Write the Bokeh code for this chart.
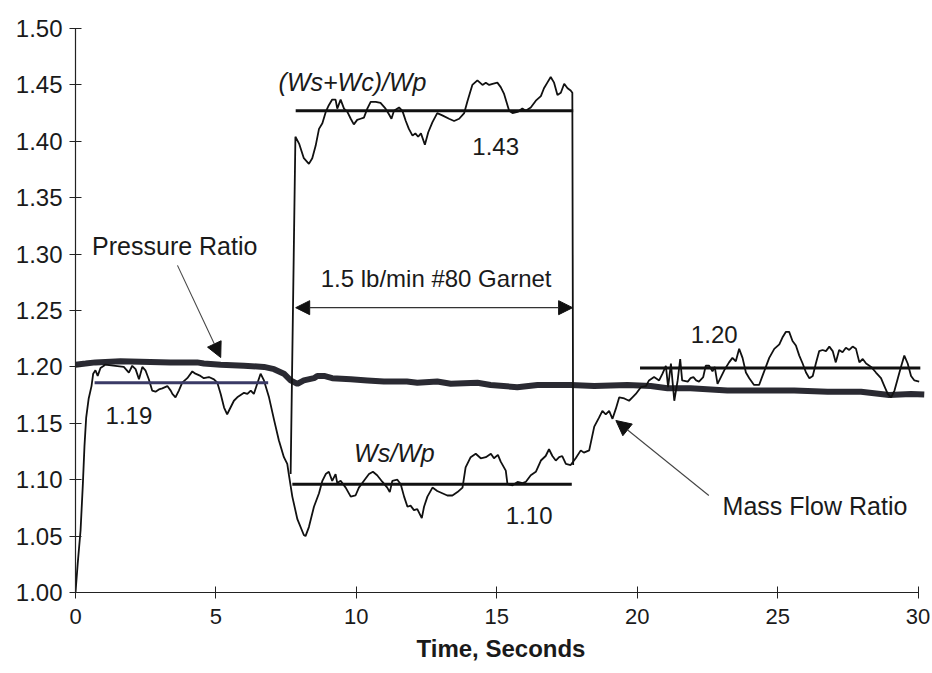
from bokeh.plotting import figure
from bokeh.models import Arrow, NormalHead, FixedTicker, Label, NumeralTickFormatter
from bokeh.embed import file_html
from bokeh.resources import INLINE

# ---------------- data ----------------
x_ticks = [0, 5, 10, 15, 20, 25, 30]
y_ticks = [1.00, 1.05, 1.10, 1.15, 1.20, 1.25, 1.30, 1.35, 1.40, 1.45, 1.50]

# Mass flow ratio Ws/Wp
ws_t = [0.00, 0.08, 0.18, 0.26, 0.32, 0.38, 0.47, 0.57, 0.63, 0.71, 0.79, 0.89, 1.01, 1.05, 1.42, 1.72, 1.90, 2.02, 2.14, 2.26,
        2.38, 2.49, 2.61, 2.73, 2.85, 2.97, 3.09, 3.27, 3.39, 3.45, 3.56, 3.68, 3.80, 3.98, 4.16, 4.27, 4.45, 4.57, 4.75, 4.93,
        5.05, 5.17, 5.29, 5.40, 5.52, 5.64, 5.76, 5.88, 6.00, 6.12, 6.24, 6.35, 6.47, 6.59, 6.71, 6.89, 7.07, 7.24, 7.42, 7.54,
        7.60, 7.72, 7.90, 8.13, 8.19, 8.31, 8.49, 8.67, 8.79, 8.91, 9.02, 9.14, 9.26, 9.32, 9.44, 9.62, 9.80, 9.97, 10.09, 10.27,
        10.45, 10.59, 10.74, 10.93, 11.10, 11.19, 11.28, 11.46, 11.58, 11.70, 11.82, 11.93, 12.05, 12.17, 12.33, 12.41, 12.53, 12.71, 12.88, 13.06,
        13.24, 13.42, 13.60, 13.78, 13.89, 14.07, 14.25, 14.43, 14.61, 14.79, 14.90, 15.04, 15.14, 15.32, 15.38, 15.56, 15.74, 15.92, 16.03, 16.21,
        16.39, 16.57, 16.74, 16.86, 16.98, 17.10, 17.22, 17.33, 17.46, 17.63, 17.81, 17.99, 18.10, 18.29, 18.47, 18.64, 18.76, 18.88, 19.00, 19.12,
        19.24, 19.36, 19.54, 19.71, 19.83, 19.95, 20.13, 20.31, 20.42, 20.60, 20.78, 20.90, 21.02, 21.10, 21.20, 21.32, 21.44, 21.53, 21.60, 21.80,
        21.90, 22.00, 22.10, 22.20, 22.35, 22.44, 22.56, 22.68, 22.76, 22.86, 22.98, 23.12, 23.27, 23.39, 23.51, 23.63, 23.75, 23.87, 23.99, 24.16,
        24.34, 24.46, 24.58, 24.70, 24.88, 25.06, 25.17, 25.29, 25.41, 25.53, 25.65, 25.77, 25.89, 26.01, 26.13, 26.25, 26.36, 26.48, 26.60, 26.72,
        26.84, 26.96, 27.07, 27.19, 27.31, 27.43, 27.55, 27.67, 27.79, 27.91, 28.03, 28.15, 28.33, 28.50, 28.68, 28.80, 28.92, 29.04, 29.16, 29.28,
        29.39, 29.51, 29.63, 29.75, 29.87, 30.04]
ws_wp = [1.000, 1.026, 1.055, 1.095, 1.130, 1.155, 1.172, 1.183, 1.194, 1.197, 1.192, 1.199, 1.201, 1.202, 1.201, 1.200, 1.195, 1.201, 1.198, 1.189,
         1.200, 1.197, 1.189, 1.179, 1.178, 1.180, 1.181, 1.183, 1.179, 1.176, 1.173, 1.179, 1.186, 1.190, 1.196, 1.194, 1.192, 1.190, 1.191, 1.189,
         1.186, 1.176, 1.164, 1.158, 1.164, 1.170, 1.173, 1.175, 1.177, 1.176, 1.179, 1.176, 1.185, 1.194, 1.188, 1.173, 1.153, 1.135, 1.120, 1.114,
         1.104, 1.085, 1.065, 1.051, 1.050, 1.058, 1.076, 1.088, 1.099, 1.105, 1.107, 1.099, 1.105, 1.097, 1.099, 1.093, 1.085, 1.086, 1.093, 1.099,
         1.105, 1.107, 1.104, 1.098, 1.093, 1.089, 1.099, 1.100, 1.096, 1.085, 1.076, 1.077, 1.073, 1.074, 1.066, 1.076, 1.085, 1.093, 1.090, 1.088,
         1.086, 1.086, 1.089, 1.093, 1.111, 1.120, 1.123, 1.119, 1.120, 1.123, 1.119, 1.122, 1.116, 1.108, 1.096, 1.095, 1.098, 1.097, 1.098, 1.104,
         1.107, 1.117, 1.121, 1.127, 1.121, 1.117, 1.120, 1.121, 1.114, 1.113, 1.119, 1.126, 1.124, 1.126, 1.147, 1.155, 1.161, 1.158, 1.161, 1.154,
         1.163, 1.173, 1.172, 1.170, 1.173, 1.176, 1.182, 1.183, 1.188, 1.191, 1.188, 1.194, 1.201, 1.182, 1.203, 1.170, 1.188, 1.207, 1.188, 1.187,
         1.190, 1.191, 1.188, 1.187, 1.191, 1.201, 1.201, 1.196, 1.200, 1.185, 1.191, 1.198, 1.204, 1.208, 1.205, 1.216, 1.208, 1.195, 1.190, 1.184,
         1.184, 1.192, 1.200, 1.208, 1.216, 1.220, 1.226, 1.231, 1.231, 1.223, 1.219, 1.210, 1.203, 1.195, 1.190, 1.192, 1.203, 1.214, 1.215, 1.214,
         1.218, 1.214, 1.204, 1.215, 1.213, 1.217, 1.215, 1.218, 1.216, 1.204, 1.207, 1.203, 1.200, 1.195, 1.190, 1.183, 1.176, 1.173, 1.179, 1.190,
         1.200, 1.210, 1.203, 1.192, 1.188, 1.187]

# (Ws+Wc)/Wp during the garnet feed (with the jumps at start and end)
wc_t = [7.66, 7.83, 7.96, 8.13, 8.31, 8.43, 8.55, 8.67, 8.79, 8.91, 9.02, 9.14, 9.26, 9.32, 9.44, 9.56, 9.68, 9.80, 9.91, 10.03,
        10.15, 10.27, 10.39, 10.51, 10.69, 10.86, 11.04, 11.16, 11.25, 11.34, 11.52, 11.64, 11.76, 11.87, 12.00, 12.10, 12.20, 12.30, 12.44, 12.56,
        12.71, 12.88, 13.06, 13.30, 13.48, 13.66, 13.84, 13.95, 14.07, 14.13, 14.31, 14.49, 14.61, 14.73, 14.85, 15.02, 15.14, 15.26, 15.44, 15.56,
        15.74, 15.91, 16.03, 16.21, 16.39, 16.57, 16.68, 16.80, 16.92, 17.04, 17.16, 17.28, 17.40, 17.52, 17.63, 17.69, 17.72]
wc_wp = [1.105, 1.404, 1.398, 1.385, 1.380, 1.385, 1.396, 1.411, 1.416, 1.426, 1.432, 1.437, 1.437, 1.429, 1.437, 1.429, 1.426, 1.420, 1.415, 1.419,
         1.420, 1.421, 1.429, 1.435, 1.435, 1.434, 1.429, 1.424, 1.420, 1.427, 1.430, 1.427, 1.418, 1.411, 1.405, 1.407, 1.404, 1.407, 1.397, 1.408,
         1.417, 1.425, 1.423, 1.420, 1.418, 1.420, 1.425, 1.435, 1.445, 1.450, 1.454, 1.450, 1.452, 1.450, 1.451, 1.452, 1.448, 1.442, 1.427, 1.425,
         1.426, 1.429, 1.427, 1.430, 1.436, 1.440, 1.447, 1.452, 1.457, 1.452, 1.441, 1.443, 1.451, 1.447, 1.445, 1.443, 1.113]

# Pressure ratio
pr_t = [0.00, 0.36, 0.71, 1.60, 3.38, 4.33, 4.57, 5.17, 6.00, 6.71, 7.07, 7.42, 7.66, 7.90, 8.13, 8.49, 8.61, 8.85, 9.14, 9.80,
        10.39, 10.98, 11.80, 12.17, 12.88, 13.36, 14.31, 14.78, 15.73, 16.45, 17.18, 17.63, 18.47, 19.65, 20.48, 21.08, 21.90, 23.21, 24.40, 25.59,
        26.78, 27.97, 28.97, 29.75, 30.22]
pressure_ratio = [1.202, 1.203, 1.204, 1.205, 1.204, 1.204, 1.203, 1.202, 1.201, 1.200, 1.198, 1.194, 1.188, 1.185, 1.188, 1.190, 1.192, 1.192, 1.190, 1.189,
                  1.188, 1.187, 1.187, 1.186, 1.187, 1.185, 1.186, 1.184, 1.182, 1.184, 1.184, 1.184, 1.183, 1.184, 1.183, 1.181, 1.181, 1.179, 1.179, 1.179,
                  1.178, 1.178, 1.175, 1.176, 1.1755]

# Average levels
mean_x0 = [0.68, 7.72, 7.84, 20.10]
mean_x1 = [6.86, 17.67, 17.72, 30.08]
mean_y = [1.186, 1.096, 1.427, 1.199]
mean_labels = ["1.19", "1.10", "1.43", "1.20"]

FONT = "Liberation Sans"

p = figure(width=932, height=673, x_range=(0, 30.3), y_range=(1.0, 1.5),
           output_backend="svg", toolbar_location=None,
           min_border_left=75, min_border_right=6, min_border_top=28, min_border_bottom=81)
p.outline_line_color = None
p.grid.visible = False
p.background_fill_color = "white"
p.border_fill_color = "white"

for ax in (p.xaxis[0], p.yaxis[0]):
    ax.axis_line_color = "#222222"
    ax.axis_line_width = 1.2
    ax.major_tick_line_color = "#222222"
    ax.major_tick_in = 6
    ax.major_tick_out = 6
    ax.minor_tick_line_color = None
    ax.major_label_text_font = FONT
    ax.major_label_text_color = "#1a1a1a"

p.xaxis.major_label_text_font_size = "22px"
p.yaxis.major_label_text_font_size = "24px"
p.xaxis.ticker = FixedTicker(ticks=x_ticks)
p.yaxis.ticker = FixedTicker(ticks=y_ticks)
p.yaxis.formatter = NumeralTickFormatter(format="0.00")
p.xaxis.bounds = (0, 30)
p.xaxis.major_label_standoff = 10
p.yaxis.major_label_standoff = 7
p.xaxis.axis_label = "Time, Seconds"
p.xaxis.axis_label_text_font = FONT
p.xaxis.axis_label_text_font_style = "bold"
p.xaxis.axis_label_text_font_size = "24px"
p.xaxis.axis_label_text_color = "#1a1a1a"
p.xaxis.axis_label_standoff = 8

# curves
p.line(pr_t, pressure_ratio, line_color="#2a2a32", line_width=6)
p.line(ws_t, ws_wp, line_color="#111111", line_width=1.8)
p.line(wc_t, wc_wp, line_color="#111111", line_width=1.8)

# average lines
p.segment(x0=mean_x0, y0=mean_y, x1=mean_x1, y1=mean_y,
          line_color=["#3a3a66", "#111111", "#111111", "#111111"], line_width=3)

def add_label(x, y, text, size="23px", style="normal"):
    p.add_layout(Label(x=x, y=y, text=text, text_font=FONT, text_font_size=size,
                       text_font_style=style, text_color="#1a1a1a", text_baseline="alphabetic"))

label_pos = [(1.07, 1.157), (15.32, 1.068), (14.13, 1.395), (21.91, 1.229)]
for (lx, ly), t in zip(label_pos, mean_labels):
    add_label(lx, ly, t, size="24px")

add_label(7.23, 1.453, "(Ws+Wc)/Wp", size="25px", style="italic")
add_label(9.92, 1.124, "Ws/Wp", size="25px", style="italic")
add_label(8.73, 1.278, "1.5 lb/min #80 Garnet", size="24px")
add_label(0.59, 1.3076, "Pressure Ratio", size="25px")
add_label(23.04, 1.0771, "Mass Flow Ratio", size="25px")

# arrows
p.add_layout(Arrow(start=NormalHead(size=14, fill_color="#111111", line_color="#111111"),
                   end=NormalHead(size=14, fill_color="#111111", line_color="#111111"),
                   x_start=7.84, y_start=1.2525, x_end=17.70, y_end=1.2525,
                   line_color="#333333", line_width=1.3))
p.add_layout(Arrow(end=NormalHead(size=15, fill_color="#111111", line_color="#111111"),
                   x_start=3.63, y_start=1.290, x_end=5.17, y_end=1.2083,
                   line_color="#444444", line_width=1.1))
p.add_layout(Arrow(end=NormalHead(size=15, fill_color="#111111", line_color="#111111"),
                   x_start=22.55, y_start=1.086, x_end=19.24, y_end=1.1525,
                   line_color="#444444", line_width=1.1))

open("out.html", "w").write(file_html(p, INLINE))
